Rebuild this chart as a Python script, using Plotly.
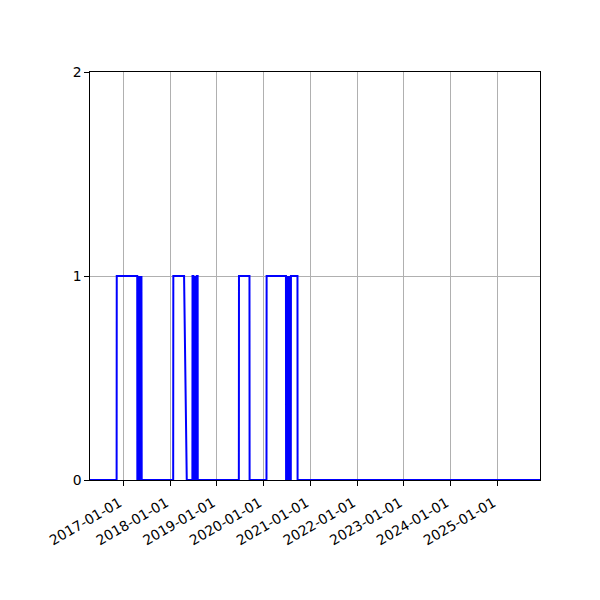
import plotly.graph_objects as go

# Flag series (0/1), points where the value changes
dates = [
    "2016-04-15", "2016-11-09", "2016-11-10", "2017-04-19",
    "2017-04-20", "2017-04-22", "2017-04-24", "2017-04-26", "2017-04-28",
    "2017-05-02", "2017-05-05", "2017-05-08", "2017-05-12", "2017-05-15",
    "2017-05-19", "2017-05-22", "2017-05-24",
    "2018-01-25", "2018-01-26", "2018-04-20", "2018-05-11",
    "2018-06-24", "2018-06-25", "2018-07-02", "2018-07-03", "2018-07-05",
    "2018-07-10", "2018-07-12", "2018-07-18", "2018-07-20", "2018-07-26",
    "2018-07-28", "2018-08-04", "2018-08-05",
    "2019-06-22", "2019-06-23", "2019-09-13", "2019-09-14",
    "2020-01-24", "2020-01-25", "2020-06-24", "2020-06-25", "2020-06-28",
    "2020-07-01", "2020-07-05", "2020-07-09", "2020-07-13", "2020-07-17",
    "2020-07-21", "2020-07-25", "2020-07-29", "2020-08-01", "2020-08-02",
    "2020-09-22", "2020-09-23", "2025-11-30",
]
values = [
    0, 0, 1, 1,
    0, 1, 0, 1, 0,
    1, 0, 1, 0, 1,
    0, 1, 0,
    0, 1, 1, 0,
    0, 1, 1, 0, 1,
    0, 1, 0, 1, 0,
    1, 1, 0,
    0, 1, 1, 0,
    0, 1, 1, 0, 1,
    0, 1, 0, 1, 0,
    1, 0, 1, 0, 1,
    1, 0, 0,
]

tick_years = [f"{y}-01-01" for y in range(2017, 2026)]
y_ticks = [0, 1, 2]

fig = go.Figure()
fig.add_trace(go.Scatter(x=dates, y=values, mode="lines",
                         line=dict(color="blue", width=2)))

axis_style = dict(showline=True, linecolor="black", linewidth=1.1, mirror=True,
                  ticks="outside", ticklen=4.5, tickwidth=1.1, tickcolor="black",
                  showgrid=True, gridcolor="#b0b0b0", gridwidth=1.1,
                  zeroline=False, automargin=False,
                  tickfont=dict(family="DejaVu Sans", size=13.9, color="black"))

fig.update_xaxes(type="date", range=["2016-04-15", "2025-11-30"],
                 tickvals=tick_years, ticktext=tick_years, tickangle=-30,
                 ticklabelstandoff=4, ticklabelshift=-4, **axis_style)
fig.update_yaxes(range=[0, 2], tickvals=y_ticks, ticktext=[str(v) for v in y_ticks], **axis_style)

# the page body has an 8px margin, so shift the plot area back by that much
fig.update_layout(
    width=600, height=600,
    margin=dict(l=82, r=68, t=64, b=128),
    paper_bgcolor="white", plot_bgcolor="white",
    showlegend=False,
)

fig.write_html("out.html")
